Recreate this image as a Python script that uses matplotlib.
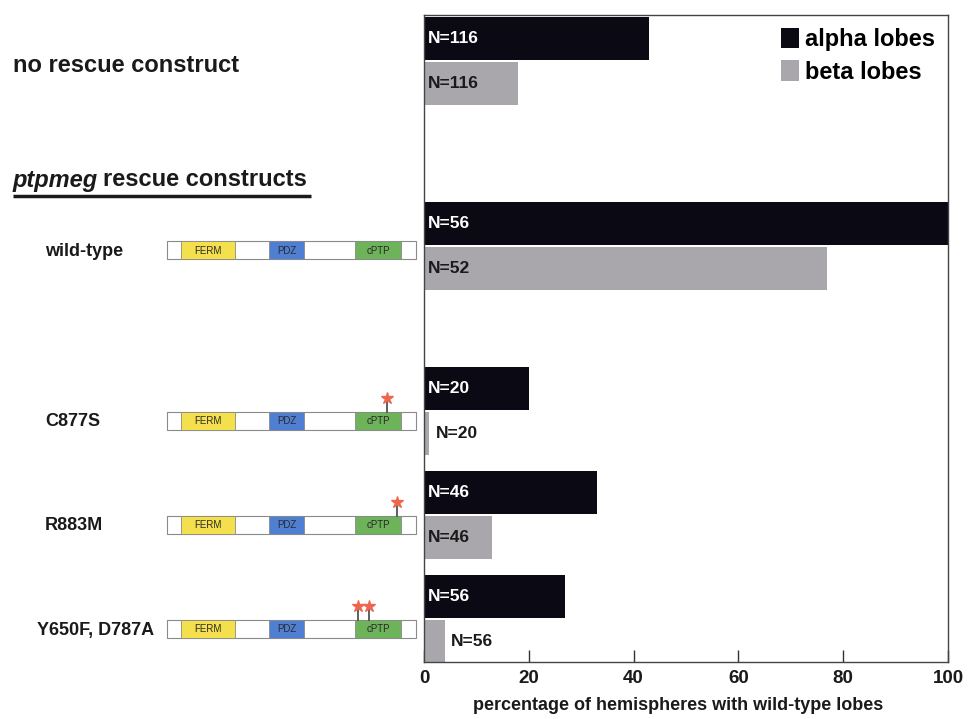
import matplotlib.pyplot as plt
from matplotlib.patches import Rectangle, Patch

plt.rcParams['font.family'] = ['Liberation Sans', 'DejaVu Sans']
plt.rcParams['font.weight'] = 'bold'

# rescue data: percentage of hemispheres with wild-type lobes
constructs = ["no rescue construct", "wild-type", "C877S", "R883M", "Y650F, D787A"]
alpha_pct = [43, 100, 20, 33, 27]
beta_pct = [18, 77, 1, 13, 4]
alpha_n = [116, 56, 20, 46, 56]
beta_n = [116, 52, 20, 46, 56]
x_ticks = [0, 20, 40, 60, 80, 100]

# protein domains (start, end in px of the diagram) and colours
domains = ["FERM", "PDZ", "cPTP"]
domain_colors = ["#f4e04d", "#4f7fd2", "#6cb35a"]
domain_span = [(181, 235), (269, 304), (355, 401)]
# mutation star positions for each mutant diagram
mut_sites = {"C877S": [387], "R883M": [397], "Y650F, D787A": [358, 369]}

# layout (vertical positions in pixel-like units)
group_y = [61, 246, 411, 515, 619]
bar_h = 43
W, H = 971, 719
TXT = "#1a1a1a"

fig = plt.figure(figsize=(W / 100, H / 100), dpi=100)

# overlay for the left-hand panel
ov = fig.add_axes([0, 0, 1, 1])
ov.set_xlim(0, W)
ov.set_ylim(H, 0)
ov.axis("off")

ov.text(13, 65, "no rescue construct", fontsize=17, fontweight="bold",
        va="center", ha="left", color=TXT)
t1 = ov.text(13, 180, "ptpmeg", fontsize=17, fontweight="bold", style="italic",
             va="center", ha="left", color=TXT)
fig.canvas.draw()
bb = t1.get_window_extent().transformed(ov.transData.inverted())
ov.text(bb.x1 + 5, 180, "rescue constructs", fontsize=17, fontweight="bold",
        va="center", ha="left", color=TXT)
ov.plot([13, 311], [196, 196], color=TXT, lw=2.5, solid_capstyle="butt")

row_x = {"wild-type": 45, "C877S": 45, "R883M": 45, "Y650F, D787A": 37}
for name, gy in zip(constructs[1:], group_y[1:]):
    cy = gy + 10 if name != "wild-type" else gy + 4
    ov.text(row_x[name], cy + 1, name, fontsize=13, fontweight="bold",
            va="center", ha="left", color=TXT)
    # construct diagram
    bx0, bx1, bh = 167, 416, 18
    ov.add_patch(Rectangle((bx0, cy - bh / 2), bx1 - bx0, bh, facecolor="white",
                           edgecolor="#8a8a8a", lw=0.8, zorder=2))
    for d, c, (s, e) in zip(domains, domain_colors, domain_span):
        ov.add_patch(Rectangle((s, cy - bh / 2), e - s, bh, facecolor=c,
                               edgecolor="#8a8a8a", lw=0.6, zorder=3))
        ov.text((s + e) / 2, cy + 0.5, d, fontsize=7, fontweight="normal",
                ha="center", va="center", color="#2a2a2a", zorder=4)
    for sx in mut_sites.get(name, []):
        ov.plot([sx, sx], [cy - bh / 2, cy - bh / 2 - 10], color="#444444",
                lw=1.2, zorder=4)
        ov.plot(sx, cy - bh / 2 - 14, marker="*", ms=9, color="#f0654e",
                mec="#f0654e", zorder=5)

# main bar chart
ax = fig.add_axes([424 / W, 1 - 662 / H, (948 - 424) / W, (662 - 15) / H])
alpha_y = [g - bar_h / 2 - 1 for g in group_y]
beta_y = [g + bar_h / 2 + 1 for g in group_y]
ax.barh(alpha_y, alpha_pct, height=bar_h, color="#0b0a14", zorder=2)
ax.barh(beta_y, beta_pct, height=bar_h, color="#a9a7ac", zorder=2)

for y, v, n in zip(alpha_y, alpha_pct, alpha_n):
    ax.text(0.7, y, f"N={n}", color="white", fontsize=12.5, fontweight="bold",
            va="center", ha="left", zorder=3)
for y, v, n in zip(beta_y, beta_pct, beta_n):
    x = 0.7 if v > 8 else v + 1.2
    ax.text(x, y, f"N={n}", color=TXT, fontsize=12.5, fontweight="bold",
            va="center", ha="left", zorder=3)

ax.set_xlim(0, 100)
ax.set_ylim(662, 15)
ax.set_yticks([])
ax.set_xticks(x_ticks)
ax.set_xticklabels([str(t) for t in x_ticks], fontsize=13.5, fontweight="bold",
                   color=TXT)
ax.tick_params(axis="x", direction="in", length=9, width=1, pad=6, color="#333333")
ax.set_xlabel("percentage of hemispheres with wild-type lobes", fontsize=13,
              fontweight="bold", color=TXT, labelpad=7, x=0.485)
for sp in ax.spines.values():
    sp.set_color("#444444")
    sp.set_linewidth(1)

handles = [Patch(facecolor="#0b0a14", label="alpha lobes"),
           Patch(facecolor="#a9a7ac", label="beta lobes")]
ax.legend(handles=handles, loc="upper right", bbox_to_anchor=(1.006, 1.006),
          frameon=False, prop={"weight": "bold", "size": 17},
          handlelength=0.75, handleheight=0.95, handletextpad=0.25,
          labelspacing=0.4, borderaxespad=0.3)

fig.savefig("out.png", dpi=100)
